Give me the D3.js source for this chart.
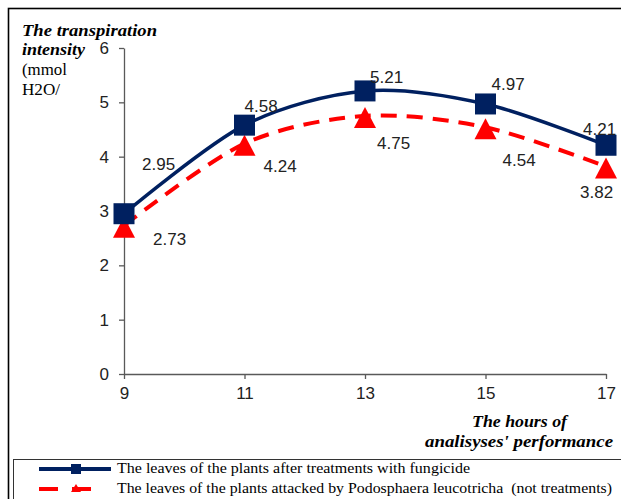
<!DOCTYPE html>
<html lang="en">
<head>
    <meta charset="UTF-8">
    <title>Transpiration intensity</title>
    <script src="https://d3js.org/d3.v7.min.js"></script>
    <style>
        body { margin: 0; background: #fff; }
        svg { display: block; }
        .serif { font-family: "Liberation Serif", "Times New Roman", serif; }
        .sans { font-family: "Liberation Sans", Arial, sans-serif; }
    </style>
</head>
<body>
<svg id="chart"></svg>
<script>
    let hours = [9, 11, 13, 15, 17];
    let treated = [2.95, 4.58, 5.21, 4.97, 4.21];
    let attacked = [2.73, 4.24, 4.75, 4.54, 3.82];
    let yTicks = [0, 1, 2, 3, 4, 5, 6];
    let seriesNames = [
        "The leaves of the plants after treatments with fungicide",
        "The leaves of the plants attacked by Podosphaera leucotricha  (not treatments)"
    ];

    // label offsets (px) from each point, picked by eye
    let treatedOffsets = [[18, -50], [0, -19], [5, -14], [6, -20], [-23, -16]];
    let attackedOffsets = [[29, 13], [19, 22], [12, 27], [17, 33], [-26, 26]];

    const width = 621, height = 499;
    const svg = d3.select("#chart").attr("width", width).attr("height", height);

    const x = d3.scaleLinear().domain([9, 17]).range([124, 606]);
    const y = d3.scaleLinear().domain([0, 6]).range([374, 48]);

    // outer frame
    svg.append("rect").attr("x", 8.5).attr("y", 8.5).attr("width", 640).attr("height", 520)
        .attr("fill", "none").attr("stroke", "#000").attr("stroke-width", 1.6);

    // axes
    const axisColor = "#595959";
    const yAxis = svg.append("g").attr("transform", "translate(124,0)")
        .call(d3.axisLeft(y).tickValues(yTicks).tickFormat(d3.format("d")).tickSize(5).tickSizeOuter(0));
    const xAxis = svg.append("g").attr("transform", "translate(0,374)")
        .call(d3.axisBottom(x).tickValues(hours).tickFormat(d3.format("d")).tickSize(5).tickSizeOuter(0));
    [xAxis, yAxis].forEach(function(a) {
        a.select(".domain").attr("stroke", axisColor).attr("stroke-width", 1.3);
        a.selectAll(".tick line").attr("stroke", axisColor).attr("stroke-width", 1.3);
        a.selectAll("text").attr("class", "sans").attr("font-size", 17).attr("fill", "#222");
    });
    yAxis.selectAll("text").attr("x", -15);
    xAxis.selectAll("text").attr("y", 13);

    const line = d3.line().curve(d3.curveCardinal.tension(0.1))
        .x(function(d, i) { return x(hours[i]); })
        .y(function(d) { return y(d); });

    // red dashed series
    svg.append("path").datum(attacked).attr("d", line)
        .attr("fill", "none").attr("stroke", "#ff0000").attr("stroke-width", 4)
        .attr("stroke-dasharray", "16,10");

    // blue series
    svg.append("path").datum(treated).attr("d", line)
        .attr("fill", "none").attr("stroke", "#002060").attr("stroke-width", 3.5);

    svg.selectAll(".tri").data(attacked).join("path")
        .attr("class", "tri")
        .attr("d", "M0,-9L11,12L-11,12Z")
        .attr("transform", function(d, i) { return "translate(" + x(hours[i]) + "," + y(d) + ")"; })
        .attr("fill", "#ff0000");

    svg.selectAll(".sq").data(treated).join("rect")
        .attr("class", "sq")
        .attr("x", function(d, i) { return x(hours[i]) - 10.5; })
        .attr("y", function(d) { return y(d) - 10.5; })
        .attr("width", 21).attr("height", 21)
        .attr("fill", "#002060");

    // data labels
    function addLabels(values, offsets) {
        svg.append("g").selectAll("text").data(values).join("text")
            .attr("class", "sans")
            .attr("font-size", 17).attr("fill", "#222")
            .attr("x", function(d, i) { return x(hours[i]) + offsets[i][0]; })
            .attr("y", function(d, i) { return y(d) + offsets[i][1]; })
            .attr("dy", "0.35em")
            .text(function(d) { return d.toFixed(2); });
    }
    addLabels(treated, treatedOffsets);
    addLabels(attacked, attackedOffsets);

    // axis titles: text, x, baseline, width, bold italic?
    let titleLines = [
        ["The transpiration", 22, 36, 135, true],
        ["intensity", 22, 55, 63, true],
        ["(mmol", 22, 75, 45, false],
        ["H2O/", 22, 95, 38, false],
        ["The hours of", 472, 427, 95, true],
        ["analisyses' performance", 425, 447, 188, true]
    ];
    svg.append("g").attr("class", "serif").attr("font-size", 16)
        .selectAll("text").data(titleLines).join("text")
        .attr("x", function(d) { return d[1]; })
        .attr("y", function(d) { return d[2]; })
        .attr("textLength", function(d) { return d[3]; })
        .attr("lengthAdjust", "spacingAndGlyphs")
        .attr("font-weight", function(d) { return d[4] ? "bold" : "normal"; })
        .attr("font-style", function(d) { return d[4] ? "italic" : "normal"; })
        .text(function(d) { return d[0]; });

    // legend
    const lg = svg.append("g");
    lg.append("rect").attr("x", 13.5).attr("y", 459.5).attr("width", 640).attr("height", 60)
        .attr("fill", "none").attr("stroke", "#333").attr("stroke-width", 1);
    lg.append("line").attr("x1", 39).attr("x2", 111).attr("y1", 469).attr("y2", 469)
        .attr("stroke", "#002060").attr("stroke-width", 4);
    lg.append("rect").attr("x", 71).attr("y", 464).attr("width", 10).attr("height", 10).attr("fill", "#002060");
    lg.append("line").attr("x1", 39).attr("x2", 96).attr("y1", 489).attr("y2", 489)
        .attr("stroke", "#ff0000").attr("stroke-width", 4).attr("stroke-dasharray", "19,14");
    lg.append("path").attr("d", "M76,484L81,492L71,492Z").attr("fill", "#ff0000");
    const legendLengths = [353, 495];
    lg.selectAll("text").data(seriesNames).join("text")
        .attr("class", "serif").attr("font-size", 14.5).attr("fill", "#000")
        .attr("x", 117).attr("y", function(d, i) { return 473 + i * 20; })
        .attr("xml:space", "preserve")
        .attr("textLength", function(d, i) { return legendLengths[i]; })
        .attr("lengthAdjust", "spacingAndGlyphs")
        .text(function(d) { return d; });
</script>
</body>
</html>
